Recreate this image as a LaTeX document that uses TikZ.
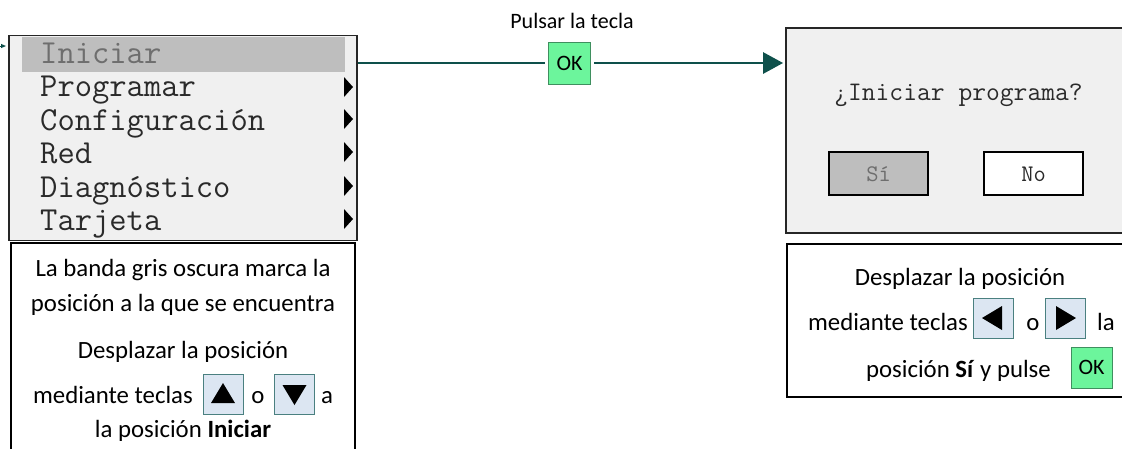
\documentclass[tikz,border=0pt]{standalone}
\usepackage{fontspec}
\setmainfont{Carlito}
\usetikzlibrary{arrows.meta}
\definecolor{teal1}{HTML}{0E504B}
\definecolor{okfill}{HTML}{6CF59C}
\definecolor{okdraw}{HTML}{3F8F5F}
\definecolor{keyfill}{HTML}{DCE6F2}
\definecolor{keydraw}{HTML}{4A8080}
\definecolor{panel}{HTML}{F0F0F0}
\definecolor{band}{HTML}{BEBEBE}
\definecolor{menutext}{HTML}{2A2A2A}
\definecolor{dimtext}{HTML}{6E6E6E}
\begin{document}
\begin{tikzpicture}[x=1pt,y=-1pt,
  panelbox/.style={draw=black!85, line width=1.8pt, fill=panel, inner sep=0pt},
  notebox/.style={draw=black, line width=1.5pt, fill=white, inner sep=0pt},
  okkey/.style={draw=okdraw, line width=1pt, fill=okfill, minimum width=42pt, minimum height=42pt, inner sep=0pt, font=\fontsize{22}{22}\selectfont},
  arrowkey/.style={draw=keydraw, line width=1pt, fill=keyfill, minimum width=40pt, minimum height=40pt, inner sep=0pt},
  menuitem/.style={anchor=base west, inner sep=0pt, text=menutext, font=\ttfamily\fontsize{33.6}{33.6}\selectfont},
  dlgtext/.style={anchor=base, inner sep=0pt, text=menutext, font=\ttfamily\fontsize{26.8}{26.8}\selectfont},
  btn/.style={draw=black, line width=1.3pt, minimum width=99pt, minimum height=43pt, inner sep=0pt},
  note/.style={anchor=base, inner sep=0pt, font=\fontsize{24.8}{24.8}\selectfont},
  link/.style={draw=teal1, line width=2.8pt},
]
\useasboundingbox (0,0) rectangle (1122,448);
\clip (0,0) rectangle (1122,448);

% incoming connector stub at the left edge
\coordinate (inL) at (-10,46);
\coordinate (inR) at (6,46);
\draw[teal1, line width=1pt, -{Triangle[length=5pt,width=4pt]}] (inL) -- (inR);

% menu panel
\node[panelbox, minimum width=348pt, minimum height=205pt] (menu) at (183,138) {};
\fill[band] (22,37) rectangle (345,72);
\node[menuitem, text=dimtext] (m1) at (40,63) {Iniciar};
\node[menuitem] (m2) at (40,96) {Programar};
\node[menuitem] (m3) at (40,130) {Configuración};
\node[menuitem] (m4) at (40,163) {Red};
\node[menuitem] (m5) at (40,197) {Diagnóstico};
\node[menuitem] (m6) at (40,230) {Tarjeta};
\foreach \yc in {87,119,152,186,219}{
  \fill[black] (344,\yc-10) -- (353,\yc) -- (344,\yc+10) -- cycle;
}

% left note box
\node[notebox, minimum width=344pt, minimum height=230pt] (note1) at (183,358) {};
\node[note] (n1a) at (183,276) {La banda gris oscura marca la};
\node[note] (n1b) at (183,311) {posición a la que se encuentra};
\node[note] (n1c) at (183,358) {Desplazar la posición};
\node[note, anchor=base east] (n1d) at (193,403) {mediante teclas};
\node[arrowkey] (kup) at (223,394) {};
\fill[black] ([shift={(-12,9)}]kup.center) -- ([shift={(12,9)}]kup.center) -- ([shift={(0,-11)}]kup.center) -- cycle;
\node[note] (n1e) at (258,403) {o};
\node[arrowkey] (kdown) at (294.5,394) {};
\fill[black] ([shift={(-12,-9)}]kdown.center) -- ([shift={(12,-9)}]kdown.center) -- ([shift={(0,11)}]kdown.center) -- cycle;
\node[note] (n1f) at (327,403) {a};
\node[note] (n1g) at (183,437) {la posición \textbf{Iniciar}};

% connector with OK key
\node[inner sep=0pt, anchor=base, font=\fontsize{22}{22}\selectfont] (lbl) at (572,28) {Pulsar la tecla};
\node[okkey] (ok) at (569.5,63) {OK};

% dialog panel
\node[panelbox, minimum width=340pt, minimum height=205pt] (dialog) at (956,130.5) {};
\node[dlgtext] (q) at (958.5,100) {¿Iniciar programa?};
\node[btn, fill=band] (si) at (878.5,173.5) {};
\node[btn, fill=white] (no) at (1033.5,173.5) {};
\node[dlgtext, text=dimtext, font=\ttfamily\fontsize{23.8}{23.8}\selectfont] (sit) at (878.5,181) {Sí};
\node[dlgtext, font=\ttfamily\fontsize{23.8}{23.8}\selectfont] (not) at (1033.5,181) {No};

\draw[link, shorten >=3pt] (ok.west -| menu.east) -- (ok.west);
\draw[link, shorten <=3pt, shorten >=2pt, -{Triangle[length=20pt,width=21pt]}] (ok.east) -- (ok.east -| dialog.west);

% right note box
\node[notebox, minimum width=343pt, minimum height=153pt] (note2) at (958.5,320.5) {};
\node[note] (n2a) at (960,285) {Desplazar la posición};
\node[note, anchor=base east] (n2b) at (968,330) {mediante teclas};
\node[arrowkey] (kleft) at (993,318) {};
\fill[black] ([shift={(9,-12)}]kleft.center) -- ([shift={(9,12)}]kleft.center) -- ([shift={(-11,0)}]kleft.center) -- cycle;
\node[note] (n2c) at (1033,330) {o};
\node[arrowkey] (kright) at (1065,318) {};
\fill[black] ([shift={(-9,-12)}]kright.center) -- ([shift={(-9,12)}]kright.center) -- ([shift={(11,0)}]kright.center) -- cycle;
\node[note] (n2d) at (1106,330) {la};
\node[note, anchor=base east] (n2e) at (1051,377) {posición \textbf{Sí} y pulse};
\node[okkey, minimum width=41pt, minimum height=41pt] (ok2) at (1091.5,367.5) {OK};
\end{tikzpicture}
\end{document}
